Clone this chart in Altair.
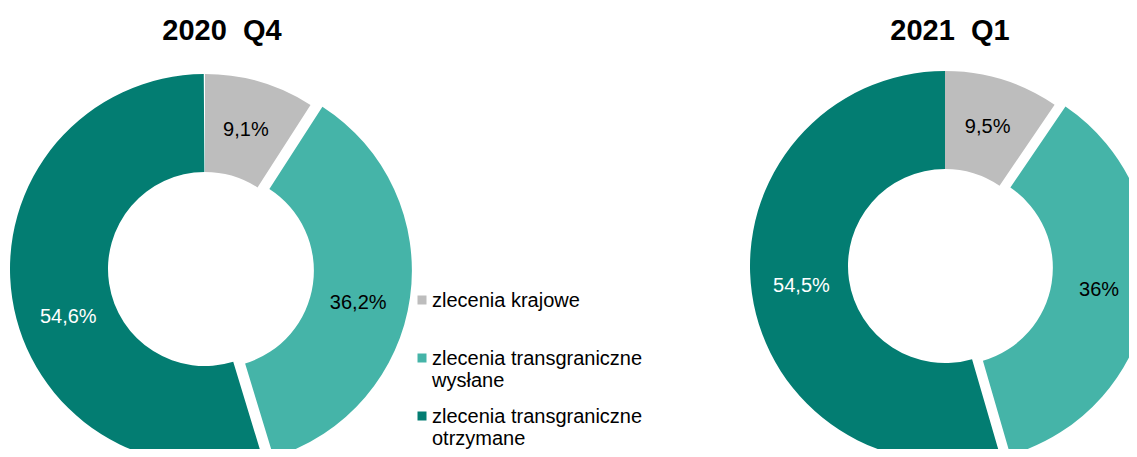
import altair as alt
import pandas as pd

# ---- data ----
periods = ["2020  Q4", "2021  Q1"]
categories = [
    "zlecenia krajowe",
    "zlecenia transgraniczne wysłane",
    "zlecenia transgraniczne otrzymane",
]
values_2020q4 = [9.1, 36.2, 54.6]
values_2021q1 = [9.5, 36.0, 54.5]
labels_2020q4 = ["9,1%", "36,2%", "54,6%"]
labels_2021q1 = ["9,5%", "36%", "54,5%"]

# ---- style ----
colors = ["#BDBDBD", "#45B4A8", "#037D72"]
label_colors = ["#000000", "#000000", "#FFFFFF"]
FONT = "Liberation Sans"
W, H = 1121, 441
# donut centres (px), explode distance of 2nd slice
C1 = (197, 261, 12)
C2 = (937, 258, 11)
R_OUT, R_IN = 195, 97
# small angular nudges of the labels of the first donut (in % of circle)
NUDGE_1 = [0.0, 1.4, -3.0]

rows = []
for p, vals, labs in [
    (periods[0], values_2020q4, labels_2020q4),
    (periods[1], values_2021q1, labels_2021q1),
]:
    for i, (c, v, l) in enumerate(zip(categories, vals, labs)):
        rows.append(dict(period=p, category=c, order=i, value=v, label=l,
                         tcolor=label_colors[i]))
df = pd.DataFrame(rows)

p0 = periods[0]
base = (
    alt.Chart(df)
    .transform_window(cum="sum(value)", groupby=["period"],
                      sort=[alt.SortField("order")], frame=[None, 0])
    .transform_calculate(
        t0="datum.cum - datum.value",
        t1="datum.cum",
        tm="datum.cum - datum.value / 2",
        cx=f"datum.period == '{p0}' ? {C1[0]} : {C2[0]}",
        cy=f"datum.period == '{p0}' ? {C1[1]} : {C2[1]}",
        ex=f"datum.order == 1 ? (datum.period == '{p0}' ? {C1[2]} : {C2[2]}) : 0",
        nd=f"datum.period == '{p0}' ? {NUDGE_1}[datum.order] : 0",
    )
    .transform_calculate(
        px="datum.cx + datum.ex * sin(datum.tm / 100 * 2 * PI)",
        py="datum.cy - datum.ex * cos(datum.tm / 100 * 2 * PI)",
        tl="datum.tm + datum.nd",
    )
)

theta_scale = alt.Scale(domain=[0, 100], range=[0, 6.283185307179586])

arcs = base.mark_arc(radius=R_OUT, radius2=R_IN, clip=True).encode(
    x=alt.X("px:Q", scale=None),
    y=alt.Y("py:Q", scale=None),
    theta=alt.Theta("t0:Q", scale=theta_scale),
    theta2="t1:Q",
    color=alt.Color(
        "category:N",
        scale=alt.Scale(domain=categories, range=colors),
        legend=alt.Legend(
            title=None,
            orient="none",
            legendX=404,
            legendY=273,
            symbolType="M-1,1.0H1V3.0H-1Z",
            symbolSize=81,
            symbolStrokeWidth=0,
            labelFont=FONT,
            labelFontSize=20,
            labelColor="#000000",
            labelLimit=400,
            labelOffset=0,
            labelBaseline="top",
            labelExpr="split(replace(datum.label, 'transgraniczne ', 'transgraniczne|'), '|')",
            gridAlign="all",
            rowPadding=6,
            padding=0,
        ),
    ),
)

texts = base.mark_text(radius=145, font=FONT, fontSize=20).encode(
    x=alt.X("px:Q", scale=None),
    y=alt.Y("py:Q", scale=None),
    theta=alt.Theta("tl:Q", scale=theta_scale),
    text="label:N",
    color=alt.Color("tcolor:N", scale=None),
)

title1 = alt.Chart(pd.DataFrame({"t": [periods[0].replace(" ", "\u00a0")]})).mark_text(
    font=FONT, fontSize=29, fontWeight="bold", color="#000000"
).encode(text="t:N", x=alt.value(214), y=alt.value(23))

title2 = alt.Chart(pd.DataFrame({"t": [periods[1].replace(" ", "\u00a0")]})).mark_text(
    font=FONT, fontSize=29, fontWeight="bold", color="#000000"
).encode(text="t:N", x=alt.value(942), y=alt.value(23))

chart = (
    alt.layer(arcs, texts, title1, title2)
    .properties(width=W, height=H, autosize=alt.AutoSizeParams(type="none"), padding=0)
    .configure_view(strokeWidth=0)
)

chart.save("out.html", embed_options={"renderer": "svg", "actions": False})
